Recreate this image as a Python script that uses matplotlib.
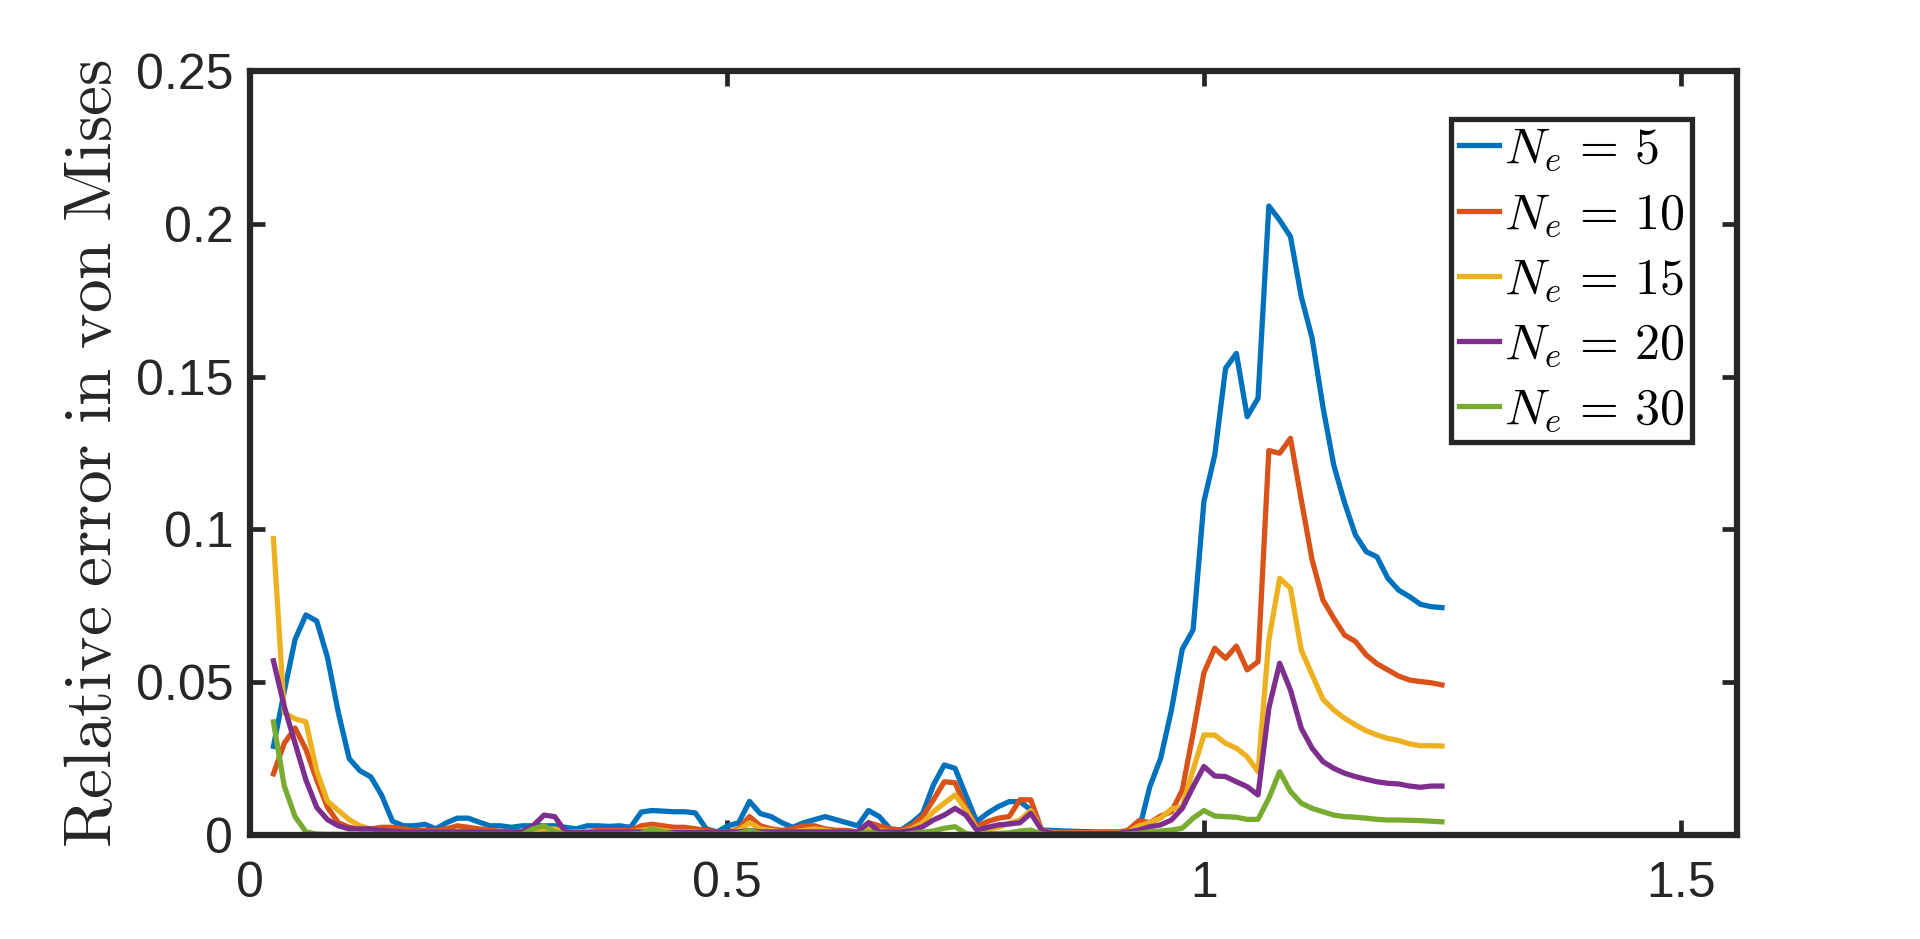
import numpy as np
import matplotlib
matplotlib.use("Agg")
import matplotlib.pyplot as plt

plt.rcParams['mathtext.fontset'] = 'cm'
plt.rcParams['font.family'] = ['Liberation Sans', 'DejaVu Sans']

# sample positions (evenly spaced)
x0 = 0.0246
dx = 0.011343
n_pts = 109
x = x0 + dx * np.arange(n_pts)

err_5 = [0.029, 0.047, 0.064, 0.072, 0.070, 0.058, 0.040, 0.025, 0.021, 0.019,
         0.013, 0.0045, 0.003, 0.003, 0.0035, 0.002, 0.004, 0.0055, 0.0055, 0.0042,
         0.003, 0.003, 0.0025, 0.003, 0.003, 0.003, 0.003, 0.0025, 0.002, 0.003,
         0.003, 0.0028, 0.003, 0.0025, 0.0075, 0.008, 0.0078, 0.0076, 0.0076, 0.0072,
         0.002, 0.001, 0.003, 0.004, 0.011, 0.007, 0.006, 0.004, 0.0025, 0.004,
         0.005, 0.006, 0.005, 0.004, 0.003, 0.008, 0.006, 0.002, 0.0016, 0.004,
         0.007, 0.0164, 0.0229, 0.0218, 0.013, 0.0044, 0.0071, 0.0093, 0.0109, 0.0109,
         0.0082, 0.0016, 0.0015, 0.0013, 0.0012, 0.0011, 0.001, 0.001, 0.001, 0.0005,
         0.0016, 0.0158, 0.0251, 0.0409, 0.0608, 0.0671, 0.1091, 0.1243, 0.1527, 0.1576,
         0.1369, 0.1429, 0.2058, 0.2012, 0.1958, 0.1761, 0.1626, 0.1401, 0.1210, 0.1087,
         0.0982, 0.0927, 0.0910, 0.0840, 0.0801, 0.0780, 0.0755, 0.0747, 0.0744]

err_10 = [0.020, 0.030, 0.035, 0.028, 0.018, 0.009, 0.004, 0.0025, 0.002, 0.002,
          0.0025, 0.0025, 0.002, 0.0015, 0.0015, 0.0015, 0.002, 0.003, 0.0025, 0.002,
          0.0015, 0.0012, 0.001, 0.001, 0.001, 0.001, 0.0015, 0.001, 0.001, 0.001,
          0.0015, 0.0015, 0.0015, 0.0015, 0.003, 0.0035, 0.003, 0.0025, 0.0025, 0.002,
          0.0015, 0.001, 0.001, 0.002, 0.006, 0.003, 0.002, 0.0015, 0.002, 0.003,
          0.003, 0.002, 0.0015, 0.0015, 0.001, 0.004, 0.003, 0.002, 0.0016, 0.003,
          0.006, 0.0115, 0.0174, 0.0171, 0.0088, 0.0027, 0.0044, 0.0055, 0.006, 0.0115,
          0.0115, 0.0016, 0.001, 0.0008, 0.0008, 0.0008, 0.0008, 0.0008, 0.0008, 0.0016,
          0.0047, 0.0040, 0.0062, 0.0076, 0.0147, 0.0333, 0.0531, 0.0611, 0.0578, 0.0618,
          0.0540, 0.0567, 0.1258, 0.1249, 0.1298, 0.1096, 0.0900, 0.0769, 0.0709, 0.0654,
          0.0633, 0.0589, 0.0560, 0.0540, 0.0520, 0.0507, 0.0502, 0.0498, 0.0491]

err_15 = [0.097, 0.040, 0.038, 0.037, 0.021, 0.011, 0.008, 0.005, 0.003, 0.002,
          0.0015, 0.001, 0.001, 0.001, 0.001, 0.001, 0.001, 0.001, 0.001, 0.001,
          0.001, 0.001, 0.001, 0.001, 0.0015, 0.002, 0.002, 0.001, 0.001, 0.001,
          0.001, 0.001, 0.001, 0.001, 0.0015, 0.002, 0.0015, 0.001, 0.001, 0.001,
          0.001, 0.001, 0.001, 0.0015, 0.004, 0.002, 0.0015, 0.001, 0.001, 0.0015,
          0.002, 0.0015, 0.001, 0.001, 0.001, 0.002, 0.0015, 0.001, 0.001, 0.002,
          0.004, 0.0076, 0.0104, 0.0131, 0.0082, 0.002, 0.002, 0.0025, 0.0038, 0.0049,
          0.008, 0.0016, 0.0006, 0.0006, 0.0006, 0.0006, 0.0006, 0.0006, 0.0006, 0.001,
          0.003, 0.004, 0.0055, 0.0085, 0.0093, 0.0213, 0.0327, 0.0327, 0.0300, 0.0284,
          0.0256, 0.0207, 0.0638, 0.0840, 0.0807, 0.0605, 0.0524, 0.0444, 0.0409, 0.0382,
          0.0360, 0.0341, 0.0327, 0.0316, 0.0309, 0.0298, 0.0292, 0.0292, 0.0291]

err_20 = [0.057, 0.042, 0.030, 0.018, 0.009, 0.005, 0.003, 0.002, 0.002, 0.002,
          0.0015, 0.0012, 0.001, 0.001, 0.001, 0.001, 0.001, 0.001, 0.001, 0.001,
          0.001, 0.001, 0.001, 0.001, 0.003, 0.0065, 0.006, 0.001, 0.0008, 0.0008,
          0.001, 0.001, 0.001, 0.001, 0.001, 0.001, 0.0008, 0.0008, 0.0008, 0.0008,
          0.001, 0.001, 0.001, 0.001, 0.0015, 0.001, 0.001, 0.001, 0.001, 0.001,
          0.001, 0.001, 0.001, 0.001, 0.001, 0.004, 0.001, 0.001, 0.001, 0.0015,
          0.0027, 0.0049, 0.0065, 0.0087, 0.0065, 0.0016, 0.0025, 0.0033, 0.0036, 0.0040,
          0.0071, 0.0016, 0.0005, 0.0005, 0.0005, 0.0005, 0.0005, 0.0005, 0.0005, 0.001,
          0.0016, 0.0027, 0.0033, 0.0049, 0.0087, 0.0158, 0.0224, 0.0193, 0.0191, 0.0174,
          0.0158, 0.0131, 0.0415, 0.0562, 0.0474, 0.0349, 0.0284, 0.0240, 0.0218, 0.0202,
          0.0191, 0.0182, 0.0174, 0.0169, 0.0167, 0.0160, 0.0156, 0.0160, 0.0160]

err_30 = [0.037, 0.016, 0.006, 0.001, 0.0003, 0.0002, 0.0002, 0.0002, 0.0002, 0.0002,
          0.0002, 0.0002, 0.0002, 0.0002, 0.0002, 0.0002, 0.0002, 0.0002, 0.0002, 0.0002,
          0.0002, 0.0002, 0.0002, 0.0002, 0.002, 0.003, 0.001, 0.0002, 0.0002, 0.0002,
          0.0002, 0.0002, 0.0002, 0.0003, 0.0005, 0.002, 0.001, 0.0003, 0.0002, 0.0002,
          0.0002, 0.0002, 0.0002, 0.0005, 0.0015, 0.0005, 0.0002, 0.0002, 0.0002, 0.0002,
          0.0002, 0.0002, 0.0002, 0.0002, 0.0002, 0.001, 0.0003, 0.0002, 0.0, 0.0005,
          0.0009, 0.0013, 0.0022, 0.0027, 0.0005, 0.0, 0.0005, 0.0005, 0.0007, 0.0013,
          0.0016, 0.0003, 0.0, 0.0, 0.0, 0.0, 0.0, 0.0, 0.0, 0.0003,
          0.0005, 0.0010, 0.0013, 0.0016, 0.0022, 0.0055, 0.0080, 0.0062, 0.0060, 0.0058,
          0.0051, 0.0051, 0.0120, 0.0207, 0.0142, 0.0104, 0.0087, 0.0076, 0.0065, 0.0060,
          0.0058, 0.0055, 0.0051, 0.0049, 0.0049, 0.0048, 0.0047, 0.0045, 0.0043]

series = [err_5, err_10, err_15, err_20, err_30]
ne_values = [5, 10, 15, 20, 30]
labels = [r'$N_e\,=\,%d$' % n for n in ne_values]
colors = ['#0072BD', '#D95319', '#EDB120', '#7E2F8E', '#77AC30']

dark = '#262626'

fig = plt.figure(figsize=(19.2, 9.39), dpi=100)
ax = fig.add_axes([0.1302, 0.1108, 0.7745, 0.8136])

for ys, lab, c in zip(series, labels, colors):
    ax.plot(x, ys, color=c, lw=3.8, label=lab)

ax.set_xlim(0, 1.559)
ax.set_ylim(0, 0.25)
ax.set_xticks([0, 0.5, 1, 1.5])
ax.set_xticklabels(['0', '0.5', '1', '1.5'])
ax.set_yticks([0, 0.05, 0.1, 0.15, 0.2, 0.25])
ax.set_yticklabels(['0', '0.05', '0.1', '0.15', '0.2', '0.25'])

for sp in ax.spines.values():
    sp.set_linewidth(4.5)
    sp.set_color(dark)
ax.tick_params(direction='in', length=11, width=3.4, color=dark,
               labelcolor=dark, labelsize=36, top=True, right=True)
ax.tick_params(axis='x', pad=19)
ax.tick_params(axis='y', pad=12)

ax.set_ylabel(r'$\mathrm{Relative\ error\ in\ von\ Mises}$', fontsize=48.5, color=dark)
ax.yaxis.set_label_coords(-0.084, 0.5)

leg = ax.legend(loc='upper right', bbox_to_anchor=(0.9697, 0.9372), borderaxespad=0,
                fontsize=36, handlelength=0.8, handletextpad=0.1, labelspacing=0.37,
                borderpad=0.15, fancybox=False, framealpha=1, edgecolor=dark)
leg.get_frame().set_linewidth(3.8)

fig.savefig('out.png', dpi=100, facecolor='white')
